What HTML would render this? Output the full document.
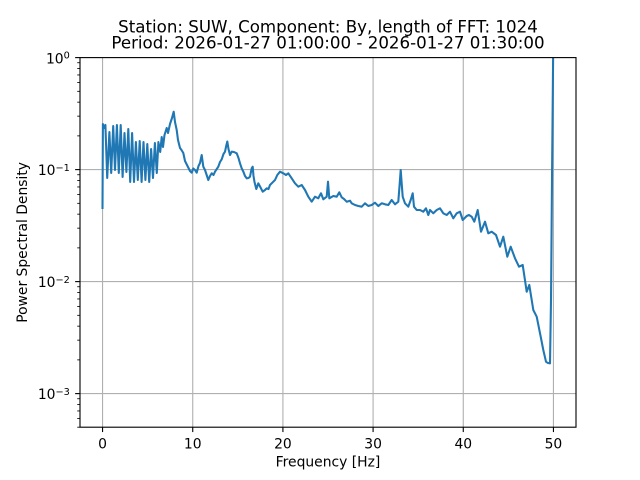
<!DOCTYPE html>
<html>
<head>
<meta charset="utf-8">
<style>
  html, body { margin: 0; padding: 0; background: #ffffff; }
  svg { display: block; }
  text { font-family: "DejaVu Sans", "Liberation Sans", sans-serif; fill: #000; }
</style>
</head>
<body>
<svg width="640" height="480" viewBox="0 0 640 480" xmlns="http://www.w3.org/2000/svg">
  <rect x="0" y="0" width="640" height="480" fill="#ffffff"/>
  <defs>
    <clipPath id="ax">
      <rect x="80" y="57.6" width="496" height="369.6"/>
    </clipPath>
  </defs>

  <!-- grid -->
  <g stroke="#b0b0b0" stroke-width="1.11" fill="none">
    <line x1="102.55" y1="57.6" x2="102.55" y2="427.2"/>
    <line x1="192.73" y1="57.6" x2="192.73" y2="427.2"/>
    <line x1="282.91" y1="57.6" x2="282.91" y2="427.2"/>
    <line x1="373.09" y1="57.6" x2="373.09" y2="427.2"/>
    <line x1="463.27" y1="57.6" x2="463.27" y2="427.2"/>
    <line x1="553.45" y1="57.6" x2="553.45" y2="427.2"/>
    <line x1="80" y1="169.6" x2="576" y2="169.6"/>
    <line x1="80" y1="281.6" x2="576" y2="281.6"/>
    <line x1="80" y1="393.6" x2="576" y2="393.6"/>
  </g>

  <!-- data -->
  <g clip-path="url(#ax)">
    <polyline fill="none" stroke="#1f77b4" stroke-width="2.08" stroke-linejoin="round" stroke-linecap="square" points="
102.5,208 102.9,124 104,128 105.4,125 107.2,178 109.4,132 111.2,173 113.2,126 115.0,170 116.9,125 118.8,173 120.7,125 122.6,177 124.5,133 126.4,172 128.3,129 130.2,182 132.1,133 134.0,182 135.9,142 137.8,180 139.7,141 141.6,182 143.5,142 145.4,180 147.3,144 149.2,182 151.1,149 153.0,178 154.9,143 156.8,173 158.4,142
160.2,152 161.7,137 163,147 164.5,135 166.7,128 168,133 170,124 172,118 173.7,111.7 175,122 176.7,130 178,140 180,148 181.5,150 183.3,153 185,161 187,165 190,171 191.7,172.7 193.3,168.5 195,170 196.7,172.7 198.5,166 200,163 201.7,155 203.3,166.7 205,170 207,176 208.3,180 210,176 211.7,173.3 213.5,175 215,171.7 218.3,166.7 220,162 221.7,159.3 223.5,154 225,151.7 226.2,146 227.3,141.5 228.5,149 230,155 231.7,151.7 234,152 236.7,153.3 238.5,158 240,163.3 241.7,168.3 243.5,172 245,176 246.7,178.3 248.5,178 250,176.7 251.7,168.3 252.7,166.7 253.5,176 254.5,182 256.3,189 258.3,183.3 260.3,187 262.7,191.7 265,190 266.7,188.3 268.5,189
270,185 273.3,181.7 275,180 277.3,175 280,171.7 283.3,173.3 286,175 288.3,173.3 291.7,178.3 295,183.3 298.3,186.7 301.7,185 305,190 308.3,196.7 311.7,201.7 315,196.7 318.3,198.3 321,193.3 323.3,199.3 326.7,196.7 328,181.7 329.3,198.3 333.3,196 336.7,196.7 339.3,192.3 341.7,197.3 344,199 346.7,201.7 350,200.7 351.7,203.3 355,205 358.3,206 361.7,206.7 365,203.3 368.3,206 371.7,205 375,202.7 378.3,206 381.7,203.3 385,204.3 388.3,205 391.7,200 395,204.3 398.3,201.7 399.6,185 400.7,170 401.8,185 402.7,196.7 405,203.3 408.3,206.7 410.7,200 412.7,193.3 414,206.7 416.7,210 420,210
423.3,211.7 426,208.3 428.3,215 430,210 433.3,213.3 436.7,210 440,208.3 443.3,213.3 446.7,215 450,211.7 453.3,218.3 456.7,213.3 460,211.7 462.7,220 466.7,216 469,215 471.7,216.7 474.3,221.7 477.7,210 481,231.7 485,221.7 488.3,233.3 491.7,231.7 496,235 500,246.7 503.3,236.7 507.3,256.7 510.7,246.7 515,258.3 519,266.7 522.7,265 526.7,291.7 529.3,285 533.3,310 536.7,316.7 540.7,336.7 543.3,350 546,361.7 548,363 550,363.3 551,300 552,180 553.45,20"/>
  </g>

  <!-- spines -->
  <rect x="80" y="57.6" width="496" height="369.6" fill="none" stroke="#000" stroke-width="1.11"/>

  <!-- x ticks -->
  <g stroke="#000" stroke-width="1.11">
    <line x1="102.55" y1="427.2" x2="102.55" y2="432.06"/>
    <line x1="192.73" y1="427.2" x2="192.73" y2="432.06"/>
    <line x1="282.91" y1="427.2" x2="282.91" y2="432.06"/>
    <line x1="373.09" y1="427.2" x2="373.09" y2="432.06"/>
    <line x1="463.27" y1="427.2" x2="463.27" y2="432.06"/>
    <line x1="553.45" y1="427.2" x2="553.45" y2="432.06"/>
  </g>
  <g font-size="13.89" text-anchor="middle">
    <text x="102.55" y="448.3">0</text>
    <text x="192.73" y="448.3">10</text>
    <text x="282.91" y="448.3">20</text>
    <text x="373.09" y="448.3">30</text>
    <text x="463.27" y="448.3">40</text>
    <text x="553.45" y="448.3">50</text>
  </g>
  <text x="328" y="466.3" font-size="13.89" text-anchor="middle">Frequency [Hz]</text>

  <!-- y major ticks -->
  <g stroke="#000" stroke-width="1.11">
    <line x1="75.14" y1="57.6" x2="80" y2="57.6"/>
    <line x1="75.14" y1="169.6" x2="80" y2="169.6"/>
    <line x1="75.14" y1="281.6" x2="80" y2="281.6"/>
    <line x1="75.14" y1="393.6" x2="80" y2="393.6"/>
  </g>
  <!-- y minor ticks -->
  <g stroke="#000" stroke-width="0.83">
    <line x1="77.22" y1="135.88" x2="80" y2="135.88"/>
    <line x1="77.22" y1="116.16" x2="80" y2="116.16"/>
    <line x1="77.22" y1="102.17" x2="80" y2="102.17"/>
    <line x1="77.22" y1="91.32" x2="80" y2="91.32"/>
    <line x1="77.22" y1="82.45" x2="80" y2="82.45"/>
    <line x1="77.22" y1="74.95" x2="80" y2="74.95"/>
    <line x1="77.22" y1="68.45" x2="80" y2="68.45"/>
    <line x1="77.22" y1="62.73" x2="80" y2="62.73"/>

    <line x1="77.22" y1="247.88" x2="80" y2="247.88"/>
    <line x1="77.22" y1="228.16" x2="80" y2="228.16"/>
    <line x1="77.22" y1="214.17" x2="80" y2="214.17"/>
    <line x1="77.22" y1="203.32" x2="80" y2="203.32"/>
    <line x1="77.22" y1="194.45" x2="80" y2="194.45"/>
    <line x1="77.22" y1="186.95" x2="80" y2="186.95"/>
    <line x1="77.22" y1="180.45" x2="80" y2="180.45"/>
    <line x1="77.22" y1="174.73" x2="80" y2="174.73"/>

    <line x1="77.22" y1="359.88" x2="80" y2="359.88"/>
    <line x1="77.22" y1="340.16" x2="80" y2="340.16"/>
    <line x1="77.22" y1="326.17" x2="80" y2="326.17"/>
    <line x1="77.22" y1="315.32" x2="80" y2="315.32"/>
    <line x1="77.22" y1="306.45" x2="80" y2="306.45"/>
    <line x1="77.22" y1="298.95" x2="80" y2="298.95"/>
    <line x1="77.22" y1="292.45" x2="80" y2="292.45"/>
    <line x1="77.22" y1="286.73" x2="80" y2="286.73"/>

    <line x1="77.22" y1="427.2" x2="80" y2="427.2"/>
    <line x1="77.22" y1="418.45" x2="80" y2="418.45"/>
    <line x1="77.22" y1="410.95" x2="80" y2="410.95"/>
    <line x1="77.22" y1="404.45" x2="80" y2="404.45"/>
    <line x1="77.22" y1="398.73" x2="80" y2="398.73"/>
  </g>
  <g font-size="13.89" text-anchor="end">
    <text x="69.8" y="63.4">10<tspan font-size="9.72" dy="-5">0</tspan></text>
    <text x="69.8" y="175.0">10<tspan font-size="9.72" dy="-4.2">−1</tspan></text>
    <text x="69.8" y="287.0">10<tspan font-size="9.72" dy="-4.2">−2</tspan></text>
    <text x="69.8" y="399.0">10<tspan font-size="9.72" dy="-4.2">−3</tspan></text>
  </g>
  <text transform="translate(27,242.4) rotate(-90)" font-size="13.89" text-anchor="middle">Power Spectral Density</text>

  <!-- title -->
  <g font-size="16.67" text-anchor="middle">
    <text x="328" y="32.3">Station: SUW, Component: By, length of FFT: 1024</text>
    <text x="328" y="48.3">Period: 2026-01-27 01:00:00 - 2026-01-27 01:30:00</text>
  </g>
</svg>
</body>
</html>
